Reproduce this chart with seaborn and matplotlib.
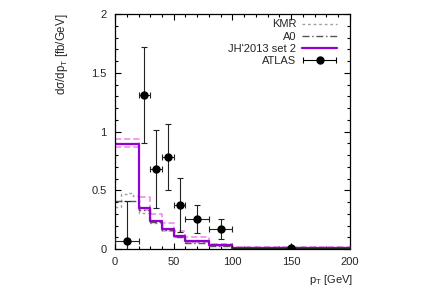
import numpy as np
import pandas as pd
import matplotlib
matplotlib.use("Agg")
import matplotlib.pyplot as plt
import seaborn as sns
from matplotlib.ticker import MultipleLocator, FormatStrFormatter
from matplotlib.container import ErrorbarContainer
from matplotlib.legend_handler import HandlerErrorbar

sns.set_theme(style="ticks")
plt.rcParams['font.family'] = ['Liberation Sans', 'DejaVu Sans']
plt.rcParams['mathtext.fontset'] = 'custom'
plt.rcParams['mathtext.rm'] = 'Liberation Sans'
plt.rcParams['mathtext.it'] = 'Liberation Sans'

# bin edges (GeV)
edges = [0, 20, 30, 40, 50, 60, 80, 100, 200]

# predictions per bin (fb/GeV)
kmr_edges = [0, 5, 10, 15, 20, 30, 40, 50, 60, 80, 100, 200]
kmr = [0.36, 0.47, 0.48, 0.45, 0.31, 0.22, 0.16, 0.10, 0.06, 0.03, 0.02]
a0 = [0.41, 0.33, 0.23, 0.16, 0.10, 0.05, 0.022, 0.008]
jh_central = [0.89, 0.35, 0.24, 0.17, 0.11, 0.068, 0.03, 0.01]
jh_upper = [0.935, 0.44, 0.30, 0.22, 0.153, 0.10, 0.042, 0.015]
jh_lower = [0.87, 0.33, 0.23, 0.155, 0.10, 0.06, 0.026, 0.008]

# ATLAS data
atlas_x = [10, 25, 35, 45, 55, 70, 90, 150]
atlas_xerr = [10, 5, 5, 5, 5, 10, 10, 50]
atlas_y = [0.07, 1.31, 0.68, 0.785, 0.375, 0.253, 0.17, 0.01]
atlas_yerr = [0.34, 0.41, 0.33, 0.28, 0.23, 0.12, 0.085, 0.005]


def steps(e, v):
    return pd.DataFrame({'x': e, 'y': list(v) + [v[-1]]})


fig = plt.figure(figsize=(4.28, 3.0), dpi=100)
ax = fig.add_axes([0.2687, 0.17, 0.549, 0.7833])

sns.lineplot(data=steps(edges, jh_upper), x='x', y='y', ax=ax, drawstyle='steps-post',
             color='violet', lw=1.1, linestyle=(0, (4, 2)))
sns.lineplot(data=steps(edges, jh_lower), x='x', y='y', ax=ax, drawstyle='steps-post',
             color='violet', lw=1.1, linestyle=(0, (4, 2)))
sns.lineplot(data=steps(kmr_edges, kmr), x='x', y='y', ax=ax, drawstyle='steps-post',
             color='#a0a0a0', lw=1.0, linestyle=(0, (2, 2)), label='KMR')
sns.lineplot(data=steps(edges, a0), x='x', y='y', ax=ax, drawstyle='steps-post',
             color='#555555', lw=1.0, linestyle=(0, (5, 2, 1, 2)), label='A0')
sns.lineplot(data=steps(edges, jh_central), x='x', y='y', ax=ax, drawstyle='steps-post',
             color='#9400d3', lw=1.6, label="JH'2013 set 2")
ax.errorbar(atlas_x, atlas_y, xerr=atlas_xerr, yerr=atlas_yerr, fmt='o', color='black',
            ms=5, elinewidth=0.8, ecolor='#222222', capsize=2, capthick=0.8,
            zorder=5)
# legend entry: horizontal bar only, as in the original key
ax.errorbar([np.nan], [np.nan], xerr=[1], fmt='o', color='black', ms=5,
            elinewidth=0.8, capsize=2, capthick=0.8, label='ATLAS')

ax.set_xlim(0, 200)
ax.set_ylim(0, 2)
ax.xaxis.set_major_locator(MultipleLocator(50))
ax.xaxis.set_minor_locator(MultipleLocator(10))
ax.yaxis.set_major_locator(MultipleLocator(0.5))
ax.yaxis.set_minor_locator(MultipleLocator(0.1))
ax.yaxis.set_major_formatter(FormatStrFormatter('%g'))
ax.tick_params(which='both', direction='in', top=True, right=True, labelsize=8,
               color='black', width=0.8)
ax.tick_params(which='major', length=4.5, pad=6)
ax.tick_params(which='minor', length=2.5)
for s in ax.spines.values():
    s.set_color('black')
    s.set_linewidth(0.9)

ax.set_xlabel('')
ax.set_ylabel('')
ax.text(0.92, -0.13, r'p$_\mathrm{T}$ [GeV]', transform=ax.transAxes, ha='center',
        va='center', fontsize=8)
ax.text(-0.225, 0.83, r'd$\sigma$/dp$_\mathrm{T}$ [fb/GeV]', transform=ax.transAxes,
        ha='center', va='center', rotation=90, fontsize=8.3)

ax.legend(loc='upper right', frameon=False, markerfirst=False, fontsize=8,
          handlelength=3.2, handletextpad=0.5, labelspacing=0.2,
          borderaxespad=0.3, bbox_to_anchor=(0.98, 1.01),
          handler_map={ErrorbarContainer: HandlerErrorbar(xerr_size=1.5)})

fig.savefig('out.png', dpi=100)
